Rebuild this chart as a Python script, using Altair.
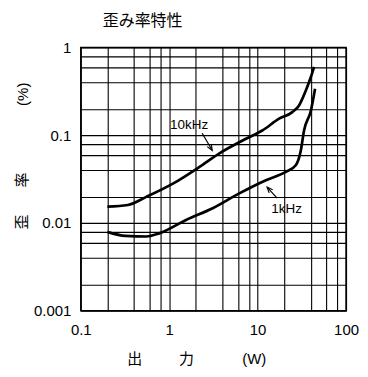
import altair as alt
import pandas as pd

# ---- data ----
chart_title = "歪み率特性"
x_grid_values = [0.1, 0.2, 0.4, 0.6, 0.8, 1, 2, 4, 6, 8, 10, 20, 40, 60, 80, 100]
y_grid_values = [0.001, 0.002, 0.004, 0.006, 0.008, 0.01, 0.02, 0.04, 0.06, 0.08,
                 0.1, 0.2, 0.4, 0.6, 0.8, 1]

# 10 kHz curve: output (W) vs distortion (%)
w_10k = [0.2, 0.34, 0.55, 1.1, 2.2, 3.7, 7.4, 11.3, 17.5, 24.7, 29.4, 35.0, 40.0, 43.5]
thd_10k = [0.0153, 0.0160, 0.0198, 0.0280, 0.0435, 0.062, 0.091, 0.113, 0.154, 0.183,
           0.218, 0.32, 0.46, 0.60]

# 1 kHz curve
w_1k = [0.2, 0.32, 0.55, 0.77, 1.55, 3.1, 6.2, 12.4, 20.8, 27.0, 30.8, 33.5, 40.0, 44.6]
thd_1k = [0.0079, 0.0071, 0.0070, 0.0076, 0.0108, 0.0147, 0.0217, 0.0307, 0.0381,
          0.0454, 0.067, 0.113, 0.19, 0.337]

# annotations
ann_text = ["10kHz", "1kHz"]
ann_w = [1.68, 21.3]
ann_thd = [0.129, 0.0144]
arrow_w_start = [2.36, 16.6]
arrow_thd_start = [0.105, 0.0192]
arrow_w_end = [3.06, 12.8]
arrow_thd_end = [0.0672, 0.0256]
arrow_angle = [149.5, 317.7]

curves = pd.DataFrame({
    "w": w_10k + w_1k,
    "thd": thd_10k + thd_1k,
    "series": ["10kHz"] * len(w_10k) + ["1kHz"] * len(w_1k),
})
ann = pd.DataFrame({"t": ann_text, "w": ann_w, "thd": ann_thd})
arrows = pd.DataFrame({
    "w": arrow_w_start, "thd": arrow_thd_start,
    "w2": arrow_w_end, "thd2": arrow_thd_end, "ang": arrow_angle,
})

LAT = "Liberation Sans"
CJK = "Noto Sans CJK JP"

decade_expr = ("abs(log(datum.value)/LN10 - round(log(datum.value)/LN10)) < 1e-6 "
               "? format(datum.value, '~g') : ''")

x_scale = alt.Scale(type="log", domain=[0.1, 100], nice=False)
y_scale = alt.Scale(type="log", domain=[0.001, 1], nice=False)

x_axis = alt.Axis(values=x_grid_values, grid=True, gridColor="black", gridWidth=1.1,
                  ticks=False, domain=False, labelExpr=decade_expr, labelFont=LAT,
                  labelFontSize=15, labelColor="black", labelPadding=12,
                  labelOverlap=False, labelFlush=False, title=None)
y_axis = alt.Axis(values=y_grid_values, grid=True, gridColor="black", gridWidth=1.1,
                  ticks=False, domain=False, labelExpr=decade_expr, labelFont=LAT,
                  labelFontSize=15, labelColor="black", labelPadding=10,
                  labelOverlap=False, labelFlush=False, title=None)

lines = alt.Chart(curves).mark_line(color="black", strokeWidth=2.7,
                                    interpolate="monotone").encode(
    x=alt.X("w:Q", scale=x_scale, axis=x_axis),
    y=alt.Y("thd:Q", scale=y_scale, axis=y_axis),
    detail="series:N",
)

ann_text_layer = alt.Chart(ann).mark_text(font=LAT, fontSize=13.5, color="black",
                                          align="center", baseline="middle").encode(
    x=alt.X("w:Q", scale=x_scale), y=alt.Y("thd:Q", scale=y_scale), text="t:N")

shafts = alt.Chart(arrows).mark_rule(color="black", strokeWidth=1.2).encode(
    x=alt.X("w:Q", scale=x_scale), y=alt.Y("thd:Q", scale=y_scale),
    x2="w2:Q", y2="thd2:Q")

heads = alt.Chart(arrows).mark_point(shape="M -0.5 1.2 L 0 0 L 0.5 1.2", size=90,
                                     filled=False, color="black",
                                     strokeWidth=1.2, opacity=1).encode(
    x=alt.X("w2:Q", scale=x_scale), y=alt.Y("thd2:Q", scale=y_scale),
    angle=alt.Angle("ang:Q", scale=None))


def free_text(text, x, y, angle=0, size=15, font=CJK):
    return alt.Chart(pd.DataFrame({"t": [text]})).mark_text(
        x=x, y=y, angle=angle, fontSize=size, font=font, align="center",
        baseline="middle", color="black").encode(text="t:N")


texts = [
    free_text(chart_title, 62, -26, size=16),
    free_text("(%)", -58, 47, angle=270, size=15, font=LAT),
    free_text("率", -59, 133, angle=270),
    free_text("歪", -59, 175, angle=270),
    free_text("出", 54, 312),
    free_text("力", 106, 312),
    free_text("(W)", 174, 312, font=LAT),
]

chart = alt.layer(lines, shafts, heads, ann_text_layer, *texts).properties(
    width=266, height=264,
    autosize=alt.AutoSizeParams(type="none"),
    padding={"left": 73, "top": 39, "right": 14, "bottom": 60},
    background="white",
).configure_view(stroke="black", strokeWidth=1.5)

chart.save("out.html", embed_options={"renderer": "svg", "actions": False})
